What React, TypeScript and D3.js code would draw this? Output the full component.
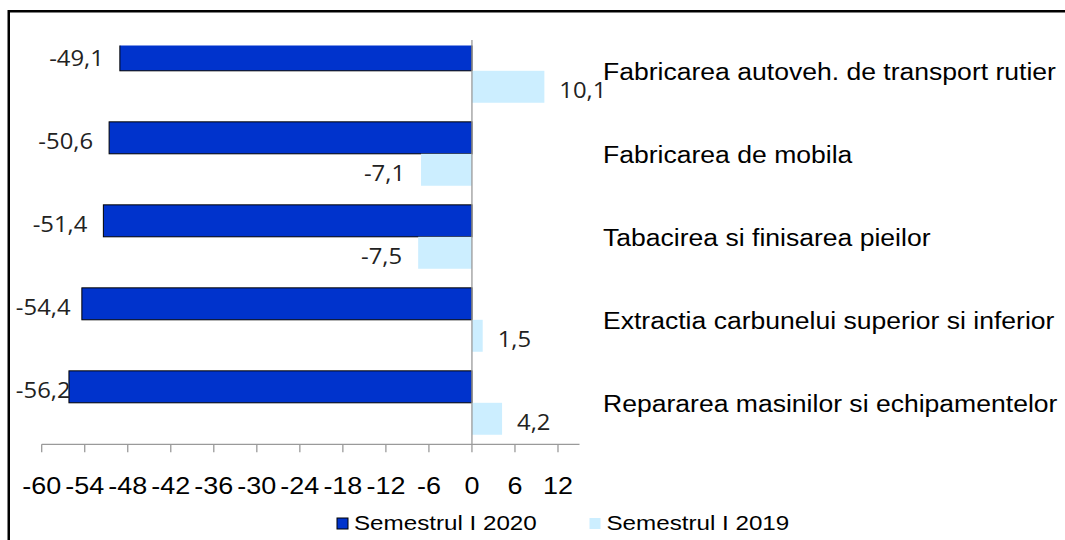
import * as d3 from "d3";

const categories = [
  "Fabricarea autoveh. de transport rutier",
  "Fabricarea de mobila",
  "Tabacirea si finisarea pieilor",
  "Extractia carbunelui superior si inferior",
  "Repararea masinilor si echipamentelor",
];
const sem2020 = [-49.1, -50.6, -51.4, -54.4, -56.2];
const sem2019 = [10.1, -7.1, -7.5, 1.5, 4.2];
const seriesNames = ["Semestrul I 2020", "Semestrul I 2019"];
const tickValues = [-60, -54, -48, -42, -36, -30, -24, -18, -12, -6, 0, 6, 12];

const W = 1065;
const H = 540;
const colors = ["#0033cc", "#cceeff"];
const axisColor = "#9a9a9a";
const arial = "'Liberation Sans', Arial, sans-serif";
const labelFont = "'Open Sans', sans-serif";

// the source picture is a bit stretched horizontally
const sxText = 1.13;
const sxVal = 1.06;
const valSize = 22.5;

const fmt = (v: number) => v.toFixed(1).replace(".", ",");
const estWidth = (s: string) =>
  s.split("").reduce((a, c) => a + (c === "-" ? 0.322 : c === "," ? 0.25 : 0.572), 0) * valSize * sxVal;

export default function App() {
  const x = d3.scaleLinear().domain([-60, 15]).range([41.7, 579.5]);
  const y = d3
    .scaleBand<string>()
    .domain(categories)
    .range([29.3, 444.3])
    .paddingInner(0.23)
    .paddingOuter(0.115);
  const sub = d3.scaleBand<string>().domain(seriesNames).range([0, y.bandwidth()]);
  const axisY = 444.3;
  const x0 = x(0);

  const series = [sem2020, sem2019];

  return (
    <svg
      width={W}
      height={H}
      style={{ position: "absolute", left: 0, top: 0, background: "#fff" }}
    >
      <defs>
        <clipPath id="plot">
          <rect x={0} y={45.5} width={W} height={axisY - 45.5} />
        </clipPath>
      </defs>
      <rect x={8.75} y={11.25} width={1200} height={700} fill="none" stroke="#000" strokeWidth={2.5} />

      <g clipPath="url(#plot)">
        {series.map((vals, si) =>
          vals.map((v, i) => {
            const by = (y(categories[i]) ?? 0) + (sub(seriesNames[si]) ?? 0);
            return (
              <rect
                key={`${si}-${i}`}
                x={Math.min(x(v), x0)}
                y={by}
                width={Math.abs(x(v) - x0)}
                height={sub.bandwidth()}
                fill={colors[si]}
                stroke={si === 0 ? "#000" : "none"}
                strokeWidth={1}
              />
            );
          })
        )}
      </g>

      {/* zero line */}
      <line x1={x0} x2={x0} y1={40} y2={axisY} stroke={axisColor} strokeWidth={1.3} />

      {/* x axis */}
      <line x1={x(-60)} x2={x(15)} y1={axisY} y2={axisY} stroke={axisColor} strokeWidth={1.3} />
      {tickValues.map((t) => (
        <g key={t}>
          <line x1={x(t)} x2={x(t)} y1={axisY} y2={axisY + 8} stroke={axisColor} strokeWidth={1.3} />
          <text
            transform={`translate(${x(t)},493.5) scale(1.1,1)`}
            textAnchor="middle"
            fontFamily={arial}
            fontSize={24.5}
            fill="#000"
          >
            {t}
          </text>
        </g>
      ))}

      {/* value labels */}
      {series.map((vals, si) =>
        vals.map((v, i) => {
          const by = (y(categories[i]) ?? 0) + (sub(seriesNames[si]) ?? 0);
          const cy = by + sub.bandwidth() / 2 + 11.5;
          const s = fmt(v);
          if (v < 0) {
            const end = Math.max(x(v) - 16, 16 + estWidth(s));
            return (
              <text
                key={`l${si}-${i}`}
                transform={`translate(${end},${cy}) scale(${sxVal},1)`}
                textAnchor="end"
                fontFamily={labelFont}
                fontSize={valSize}
                fill="#222"
              >
                {s}
              </text>
            );
          }
          return (
            <text
              key={`l${si}-${i}`}
              transform={`translate(${x(v) + 15},${cy}) scale(${sxVal},1)`}
              textAnchor="start"
              fontFamily={labelFont}
              fontSize={valSize}
              fill="#222"
            >
              {s}
            </text>
          );
        })
      )}

      {/* category labels */}
      {categories.map((c) => (
        <text
          key={c}
          transform={`translate(603,${(y(c) ?? 0) + y.bandwidth() / 2 + 9}) scale(${sxText},1)`}
          fontFamily={arial}
          fontSize={23.5}
          fill="#000"
        >
          {c}
        </text>
      ))}

      {/* legend */}
      {seriesNames.map((n, i) => {
        const lx = i === 0 ? 337 : 589.5;
        return (
          <g key={n}>
            <rect
              x={lx}
              y={518}
              width={11}
              height={11}
              fill={colors[i]}
              stroke={i === 0 ? "#000" : "none"}
              strokeWidth={1}
            />
            <text
              transform={`translate(${lx + 17},529.5) scale(1.18,1)`}
              fontFamily={arial}
              fontSize={20.5}
              fill="#000"
            >
              {n}
            </text>
          </g>
        );
      })}
    </svg>
  );
}
